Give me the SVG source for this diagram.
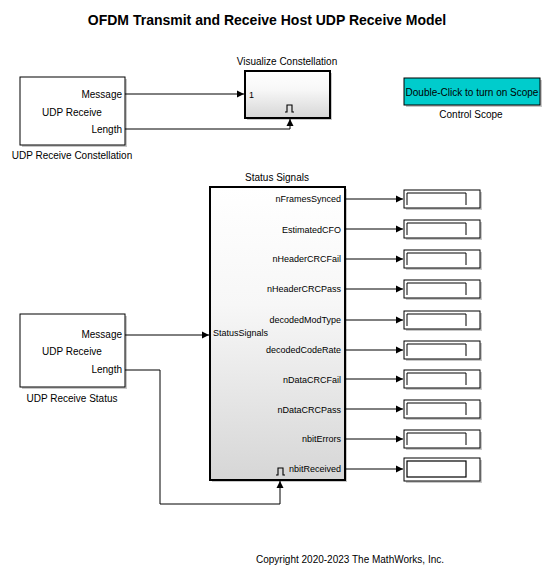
<svg xmlns="http://www.w3.org/2000/svg" width="550" height="579" viewBox="0 0 550 579">
<defs>
<linearGradient id="g" x1="0" y1="0" x2="0" y2="1"><stop offset="0" stop-color="#ffffff"/><stop offset="0.4" stop-color="#f7f7f7"/><stop offset="1" stop-color="#d6d6d6"/></linearGradient>
<marker id="ar" markerWidth="8" markerHeight="8" refX="7" refY="4" orient="auto" markerUnits="userSpaceOnUse"><path d="M0,0.5 L7,4 L0,7.5 Z" fill="#000"/></marker>
</defs>
<style>
text{font-family:"Liberation Sans",Arial,sans-serif;fill:#000}
.t{font-size:14px;font-weight:bold;text-anchor:middle}
.l{font-size:10px;text-anchor:middle}
.p{font-size:9px;text-anchor:end}
.pl{font-size:10px;text-anchor:end}
.blk{fill:#fff;stroke:#000;stroke-width:1}
.sh{fill:#c8c8c8}
.sub{fill:url(#g);stroke:#000;stroke-width:2}
.w{fill:none;stroke:#000;stroke-width:1}
.pulse{fill:none;stroke:#000;stroke-width:1.1}
.disp{fill:#fff;stroke:#000;stroke-width:1}
</style>
<rect width="550" height="579" fill="#fff"/>
<text class="t" x="267" y="25">OFDM Transmit and Receive Host UDP Receive Model</text>

<g id="udp_const">
<rect class="sh" x="22" y="79" width="105" height="68"/>
<rect class="blk" x="20" y="77" width="105" height="68"/>
<text class="pl" x="122" y="98">Message</text>
<text class="l" x="72" y="116">UDP Receive</text>
<text class="pl" x="122" y="133">Length</text>
<text class="l" x="72" y="159">UDP Receive Constellation</text>
</g>

<g id="vis_const">
<rect class="sh" x="247" y="73" width="85" height="47"/>
<rect class="sub" x="245" y="71" width="85" height="47"/>
<text style="font-size:9px" x="249" y="98">1</text>
<path class="pulse" d="M285,112 L287,112 L287,105 L292,105 L292,112 L294,112"/>
<text class="l" x="287" y="65">Visualize Constellation</text>
</g>

<g id="control_scope">
<rect class="sh" x="406" y="80" width="136" height="27"/>
<rect x="404" y="78" width="136" height="27" fill="#00cccc" stroke="#000" stroke-width="1"/>
<text class="l" x="472" y="96">Double-Click to turn on Scope</text>
<text class="l" x="471" y="118">Control Scope</text>
</g>

<g id="udp_status">
<rect class="sh" x="22" y="316" width="105" height="73"/>
<rect class="blk" x="20" y="314" width="105" height="73"/>
<text class="pl" x="122" y="338">Message</text>
<text class="l" x="72" y="355">UDP Receive</text>
<text class="pl" x="122" y="373">Length</text>
<text class="l" x="72" y="402">UDP Receive Status</text>
</g>

<g id="status_signals">
<rect class="sh" x="212" y="189" width="135" height="293"/>
<rect class="sub" x="210" y="187" width="135" height="293"/>
<text class="l" x="277" y="181">Status Signals</text>
<text style="font-size:9px" x="213" y="336">StatusSignals</text>
<text class="p" x="341" y="202">nFramesSynced</text>
<text class="p" x="341" y="233">EstimatedCFO</text>
<text class="p" x="341" y="262">nHeaderCRCFail</text>
<text class="p" x="341" y="292">nHeaderCRCPass</text>
<text class="p" x="341" y="323">decodedModType</text>
<text class="p" x="341" y="353">decodedCodeRate</text>
<text class="p" x="341" y="383">nDataCRCFail</text>
<text class="p" x="341" y="413">nDataCRCPass</text>
<text class="p" x="341" y="442">nbitErrors</text>
<text class="p" x="341" y="472">nbitReceived</text>
<path class="pulse" d="M276,475 L278,475 L278,468 L283,468 L283,475 L285,475"/>
</g>

<g id="disp1"><rect class="sh" x="406" y="192" width="76" height="18"/><rect class="disp" x="404" y="190" width="76" height="18"/><path class="w" d="M407,205 V193 H466 V205"/></g>
<g id="disp2"><rect class="sh" x="406" y="222" width="76" height="18"/><rect class="disp" x="404" y="220" width="76" height="18"/><path class="w" d="M407,235 V223 H466 V235"/></g>
<g id="disp3"><rect class="sh" x="406" y="252" width="76" height="18"/><rect class="disp" x="404" y="250" width="76" height="18"/><path class="w" d="M407,265 V253 H466 V265"/></g>
<g id="disp4"><rect class="sh" x="406" y="282" width="76" height="18"/><rect class="disp" x="404" y="280" width="76" height="18"/><path class="w" d="M407,295 V283 H466 V295"/></g>
<g id="disp5"><rect class="sh" x="406" y="313" width="76" height="18"/><rect class="disp" x="404" y="311" width="76" height="18"/><path class="w" d="M407,326 V314 H466 V326"/></g>
<g id="disp6"><rect class="sh" x="406" y="343" width="76" height="18"/><rect class="disp" x="404" y="341" width="76" height="18"/><path class="w" d="M407,356 V344 H466 V356"/></g>
<g id="disp7"><rect class="sh" x="406" y="372" width="76" height="18"/><rect class="disp" x="404" y="370" width="76" height="18"/><path class="w" d="M407,385 V373 H466 V385"/></g>
<g id="disp8"><rect class="sh" x="406" y="402" width="76" height="18"/><rect class="disp" x="404" y="400" width="76" height="18"/><path class="w" d="M407,415 V403 H466 V415"/></g>
<g id="disp9"><rect class="sh" x="406" y="432" width="76" height="18"/><rect class="disp" x="404" y="430" width="76" height="18"/><path class="w" d="M407,445 V433 H466 V445"/></g>
<g id="disp10"><rect class="sh" x="406" y="460" width="76" height="23"/><rect class="disp" x="404" y="458" width="76" height="23"/><rect x="407" y="461" width="59" height="16" fill="#fff" stroke="#000" stroke-width="1.2"/></g>

<text class="l" x="350" y="563">Copyright 2020-2023 The MathWorks, Inc.</text>

<g id="connectors" fill="none" stroke="#000" stroke-width="1">
<path d="M125,94 H244" marker-end="url(#ar)"/>
<path d="M125,129 H290 V119" marker-end="url(#ar)"/>
<path d="M125,335 H209" marker-end="url(#ar)"/>
<path d="M125,370 H160 V504 H280 V481" marker-end="url(#ar)"/>
<path d="M345,199 H403" marker-end="url(#ar)"/>
<path d="M345,229 H403" marker-end="url(#ar)"/>
<path d="M345,259 H403" marker-end="url(#ar)"/>
<path d="M345,289 H403" marker-end="url(#ar)"/>
<path d="M345,320 H403" marker-end="url(#ar)"/>
<path d="M345,350 H403" marker-end="url(#ar)"/>
<path d="M345,379 H403" marker-end="url(#ar)"/>
<path d="M345,409 H403" marker-end="url(#ar)"/>
<path d="M345,439 H403" marker-end="url(#ar)"/>
<path d="M345,469 H403" marker-end="url(#ar)"/>
</g>
</svg>
